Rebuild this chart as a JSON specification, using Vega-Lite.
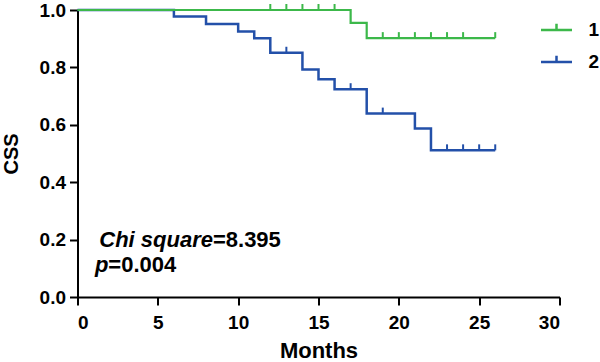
{
  "$schema": "https://vega.github.io/schema/vega-lite/v6.json",
  "width": 482,
  "height": 287,
  "autosize": {"type": "none"},
  "padding": {"left": 77.5, "top": 10, "right": 40.5, "bottom": 65},
  "background": "white",
  "config": {
    "view": {"stroke": null},
    "font": "Liberation Sans",
    "axis": {
      "grid": false,
      "domainColor": "black",
      "domainWidth": 2,
      "tickColor": "black",
      "tickWidth": 2,
      "tickSize": 8,
      "labelFont": "Liberation Sans",
      "labelFontWeight": "bold",
      "labelColor": "black",
      "labelFontSize": 19,
      "titleFont": "Liberation Sans",
      "titleFontWeight": "bold",
      "titleColor": "black"
    },
    "legend": {
      "labelFont": "Liberation Sans",
      "labelFontWeight": "bold",
      "labelFontSize": 19,
      "labelColor": "black"
    }
  },
  "datasets": {
    "curves": [
      {"group": "1", "month": 0, "surv": 1.0},
      {"group": "1", "month": 17, "surv": 0.955},
      {"group": "1", "month": 18, "surv": 0.902},
      {"group": "1", "month": 26, "surv": 0.902},
      {"group": "2", "month": 0, "surv": 1.0},
      {"group": "2", "month": 6, "surv": 0.977},
      {"group": "2", "month": 8, "surv": 0.951},
      {"group": "2", "month": 10, "surv": 0.925},
      {"group": "2", "month": 11, "surv": 0.902},
      {"group": "2", "month": 12, "surv": 0.851},
      {"group": "2", "month": 14, "surv": 0.793},
      {"group": "2", "month": 15, "surv": 0.759},
      {"group": "2", "month": 16, "surv": 0.724},
      {"group": "2", "month": 18, "surv": 0.639},
      {"group": "2", "month": 21, "surv": 0.587},
      {"group": "2", "month": 22, "surv": 0.511},
      {"group": "2", "month": 26, "surv": 0.511}
    ],
    "censored": [
      {"group": "1", "month": 12, "surv": 1.0},
      {"group": "1", "month": 13, "surv": 1.0},
      {"group": "1", "month": 14, "surv": 1.0},
      {"group": "1", "month": 15, "surv": 1.0},
      {"group": "1", "month": 16, "surv": 1.0},
      {"group": "1", "month": 19, "surv": 0.902},
      {"group": "1", "month": 20, "surv": 0.902},
      {"group": "1", "month": 21, "surv": 0.902},
      {"group": "1", "month": 22, "surv": 0.902},
      {"group": "1", "month": 23, "surv": 0.902},
      {"group": "1", "month": 24, "surv": 0.902},
      {"group": "1", "month": 26, "surv": 0.902},
      {"group": "2", "month": 13, "surv": 0.851},
      {"group": "2", "month": 17, "surv": 0.724},
      {"group": "2", "month": 19, "surv": 0.639},
      {"group": "2", "month": 23, "surv": 0.511},
      {"group": "2", "month": 24, "surv": 0.511},
      {"group": "2", "month": 25, "surv": 0.511},
      {"group": "2", "month": 26, "surv": 0.511}
    ],
    "statsItalic": [
      {"txt": "Chi square", "month": 8.43, "surv": 0.1744},
      {"txt": "p", "month": 1.92, "surv": 0.0872}
    ],
    "statsPlain": [
      {"txt": "=8.395", "month": 8.43, "surv": 0.1744},
      {"txt": "=0.004", "month": 1.92, "surv": 0.0872}
    ]
  },
  "encoding": {
    "x": {
      "field": "month",
      "type": "quantitative",
      "scale": {"domain": [0, 30], "nice": false, "zero": false},
      "axis": {
        "title": "Months",
        "values": [0, 5, 10, 15, 20, 25, 30],
        "labelPadding": 8,
        "titleFontSize": 22,
        "titleBaseline": "alphabetic",
        "titleY": 60
      }
    },
    "y": {
      "field": "surv",
      "type": "quantitative",
      "scale": {"domain": [0, 1], "nice": false},
      "axis": {
        "title": "CSS",
        "values": [0, 0.2, 0.4, 0.6, 0.8, 1.0],
        "format": ".1f",
        "labelPadding": 4,
        "titleFontSize": 20,
        "titleBaseline": "alphabetic",
        "titleX": -60.5,
        "titleY": 143.5
      }
    }
  },
  "layer": [
    {
      "data": {"name": "curves"},
      "transform": [{"filter": "datum.group == '2'"}],
      "mark": {"type": "line", "interpolate": "step-after", "strokeWidth": 2.5, "clip": false},
      "encoding": {
        "color": {
          "field": "group", "type": "nominal",
          "scale": {"domain": ["1", "2"], "range": ["#3CB84A", "#2350A9"]},
          "legend": {
            "title": null, "orient": "none", "legendX": 462, "legendY": 3,
            "symbolType": "M-1,0H1M0,0V-0.4", "symbolSize": 961, "symbolStrokeWidth": 2.5,
            "labelOffset": 15, "rowPadding": 5
          }
        }
      }
    },
    {
      "data": {"name": "curves"},
      "transform": [{"filter": "datum.group == '1'"}],
      "mark": {"type": "line", "interpolate": "step-after", "strokeWidth": 2.2, "clip": false},
      "encoding": {
        "color": {
          "field": "group", "type": "nominal",
          "scale": {"domain": ["1", "2"], "range": ["#3CB84A", "#2350A9"]},
          "legend": {
            "title": null, "orient": "none", "legendX": 462, "legendY": 3,
            "symbolType": "M-1,0H1M0,0V-0.4", "symbolSize": 961, "symbolStrokeWidth": 2.5,
            "labelOffset": 15, "rowPadding": 5
          }
        }
      }
    },
    {
      "data": {"name": "censored"},
      "mark": {"type": "rule", "strokeWidth": 2, "y2Offset": -6},
      "encoding": {
        "y2": {"field": "surv"},
        "color": {
          "field": "group", "type": "nominal",
          "scale": {"domain": ["1", "2"], "range": ["#3CB84A", "#2350A9"]},
          "legend": {
            "title": null, "orient": "none", "legendX": 462, "legendY": 3,
            "symbolType": "M-1,0H1M0,0V-0.4", "symbolSize": 961, "symbolStrokeWidth": 2.5,
            "labelOffset": 15, "rowPadding": 5
          }
        }
      }
    },
    {
      "data": {"name": "statsItalic"},
      "mark": {"type": "text", "align": "right", "baseline": "alphabetic", "font": "Liberation Sans", "fontSize": 22, "fontWeight": "bold", "fontStyle": "italic", "color": "black"},
      "encoding": {"text": {"field": "txt"}}
    },
    {
      "data": {"name": "statsPlain"},
      "mark": {"type": "text", "align": "left", "baseline": "alphabetic", "font": "Liberation Sans", "fontSize": 22, "fontWeight": "bold", "color": "black"},
      "encoding": {"text": {"field": "txt"}}
    }
  ]
}
